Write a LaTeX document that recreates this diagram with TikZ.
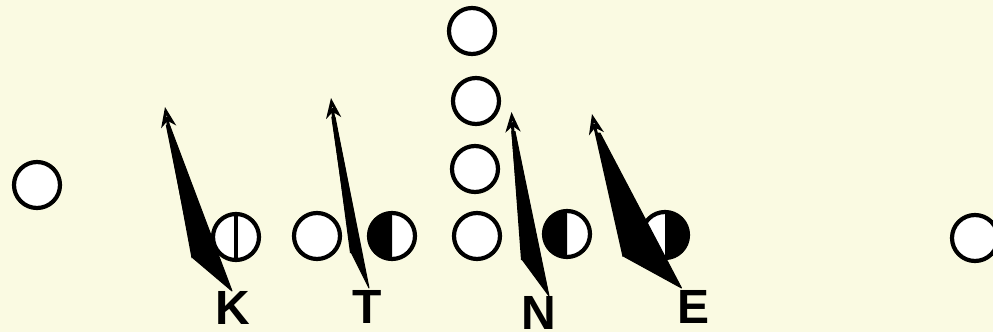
\documentclass[tikz,border=0pt]{standalone}
\usepackage{fontspec}
\setmainfont{Liberation Sans}
\usetikzlibrary{arrows.meta}
\definecolor{bg}{RGB}{250,250,226}
\begin{document}
\begin{tikzpicture}[x=1pt,y=-1pt,
  player/.style={circle,draw=black,fill=white,line width=4.2pt,minimum size=46pt,inner sep=0pt,outer sep=0pt},
  lbl/.style={font=\fontsize{48}{48}\selectfont\bfseries,anchor=base,inner sep=0pt},
  wedge/.style={fill=black,draw=black,line width=1pt,line join=round},
  stem/.style={line width=3pt,-{Stealth[open,length=20pt,width=15pt,inset=6pt]}}]
\fill[bg] (0,0) rectangle (993,332);
\useasboundingbox (0,0) rectangle (993,332);
% players
\node[player] (wl) at (37,185) {};
\node[player] (wr) at (975,238) {};
\node[player] (pk) at (236,237) {};
\node[player] (pt1) at (317,236) {};
\node[player] (pt2) at (392,236) {};
\node[player] (c1) at (472,31) {};
\node[player] (c2) at (476,101) {};
\node[player] (c3) at (475,169) {};
\node[player] (c4) at (477,236) {};
\node[player] (pn) at (567,234) {};
\node[player] (pe) at (665,235) {};
% half fills
\fill[black] (pt2.north) arc[start angle=90,end angle=270,radius=23pt] -- cycle;
\fill[black] (pn.north) arc[start angle=90,end angle=270,radius=23pt] -- cycle;
\fill[black] (pe.north) arc[start angle=90,end angle=-90,radius=23pt] -- cycle;
\draw[line width=4pt] (pk.north) -- (pk.south);
% labels
\node[lbl] (K) at (232.5,324) {K};
\node[lbl] (T) at (367,323) {T};
\node[lbl] (N) at (539,329) {N};
\node[lbl] (E) at (693.5,323) {E};
% K route
\coordinate (kb) at (232,291);
\coordinate (kc) at (193,258);
\coordinate (kt) at (167.5,125);
\coordinate (kh) at (165,107);
\draw[wedge] (kb) -- (kc) -- ([xshift=-1.2pt]kt) -- ([xshift=2pt]kt) -- cycle;
\draw[stem] (kc) -- (kh);
% T route
\coordinate (tb) at (369,288);
\coordinate (tc) at (351.5,253);
\coordinate (tt) at (333,117);
\coordinate (th) at (331,98);
\draw[wedge] (tb) -- (tc) -- ([xshift=-1.2pt]tt) -- ([xshift=2pt]tt) -- cycle;
\draw[stem] (tc) -- (th);
% N route
\coordinate (nb) at (549,296);
\coordinate (nc) at (522.5,260);
\coordinate (nt) at (513,131.5);
\coordinate (nh) at (511.5,112);
\draw[wedge] (nb) -- (nc) -- ([xshift=-1.2pt]nt) -- ([xshift=2pt]nt) -- cycle;
\draw[stem] (nc) -- (nh);
% E route
\coordinate (eb) at (681.5,288);
\coordinate (ec) at (624,256.5);
\coordinate (et) at (598,133);
\coordinate (eh) at (592,114);
\draw[wedge] (eb) -- (ec) -- ([xshift=-1.2pt]et) -- ([xshift=2pt]et) -- cycle;
\draw[stem] (ec) -- (eh);
\end{tikzpicture}
\end{document}
